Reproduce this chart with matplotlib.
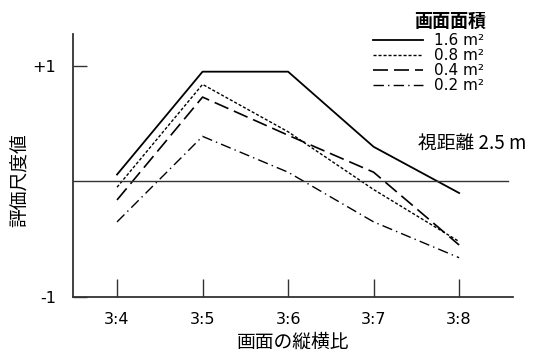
import numpy as np
import matplotlib.pyplot as plt

plt.rcParams['font.family'] = ['Noto Sans CJK JP', 'DejaVu Sans']

ratios = ['3:4', '3:5', '3:6', '3:7', '3:8']
s16 = [0.06, 0.95, 0.95, 0.30, -0.10]
s08 = [-0.05, 0.84, 0.43, -0.07, -0.52]
s04 = [-0.16, 0.73, 0.40, 0.08, -0.55]
s02 = [-0.35, 0.39, 0.08, -0.35, -0.66]
labels = ['1.6 m²', '0.8 m²', '0.4 m²', '0.2 m²']

x = np.arange(len(ratios))
ink = '#333333'

fig = plt.figure(figsize=(5.37, 3.61), dpi=100)
ax = fig.add_axes([73/537, 1-297/361, 440/537, 263/361])

ax.plot(x, s16, color='k', lw=1.3, label=labels[0])
ax.plot(x, s08, color='k', lw=1.0, dashes=(2.2, 1.4), label=labels[1])
ax.plot(x, s04, color='k', lw=1.2, dashes=(9, 3.6), label=labels[2])
ax.plot(x, s02, color='k', lw=1.0, dashes=(7.5, 3, 1, 3), label=labels[3])

ax.axhline(0, xmin=0, xmax=0.988, color=ink, lw=1.0)

ax.set_xlim(-0.515, 4.63)
ax.set_ylim(-1, 1.276)

for s in ['top', 'right']:
    ax.spines[s].set_visible(False)
for s in ['left', 'bottom']:
    ax.spines[s].set_color(ink)
    ax.spines[s].set_linewidth(1.3)

ax.set_xticks(x)
ax.set_xticklabels(ratios, family='DejaVu Sans', fontsize=11.5)
ax.set_yticks([-1, 1])
ax.set_yticklabels(['-1', '+1'], family='DejaVu Sans', fontsize=11.5)
ax.tick_params(axis='x', direction='in', length=13, width=1.0, color=ink, pad=11)
ax.tick_params(axis='y', direction='in', length=10, width=1.0, color=ink, pad=12)

ax.set_xlabel('画面の縦横比', fontsize=13.5, labelpad=3)
ax.set_ylabel('評価尺度値', fontsize=13.5)
ax.yaxis.set_label_coords(-0.095, 0.445)

leg = ax.legend(loc='upper left', bbox_to_anchor=(373/537, 1-33/361),
                bbox_transform=fig.transFigure, frameon=False,
                prop={'family': 'DejaVu Sans', 'size': 11},
                handlelength=3.3, handletextpad=0.7, labelspacing=0.0,
                borderpad=0, borderaxespad=0)
fig.text(450/537, 1-21/361, '画面面積', fontsize=13, fontweight='bold',
         ha='center', va='center')

fig.text(418/537, 1-143/361, '視距離 2.5 m', fontsize=13.5, ha='left', va='center')

fig.savefig('out.png', dpi=100)
